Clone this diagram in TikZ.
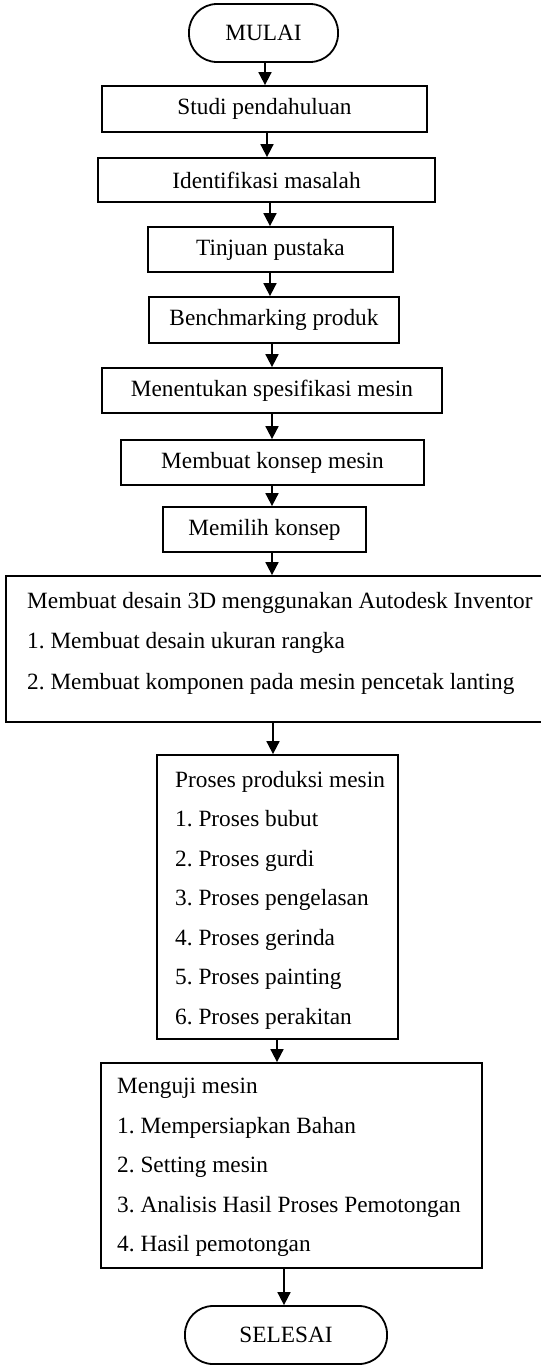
\documentclass[tikz,border=0pt]{standalone}
\usepackage{fontspec}
\setmainfont{Liberation Serif}
\usetikzlibrary{arrows.meta}
\frenchspacing
\begin{document}
\begin{tikzpicture}[x=1pt,y=-1pt,
  box/.style={draw,line width=1.8pt,inner sep=0pt,font=\fontsize{23.3}{28}\selectfont},
  term/.style={box,rounded corners=28pt},
  txt/.style={inner sep=0pt,anchor=base west,font=\fontsize{23.3}{28}\selectfont},
  arr/.style={line width=1.8pt,-{Triangle[length=13pt,width=13pt]}}]
\useasboundingbox (0,0) rectangle (541,1366);
\node[term,minimum width=149pt,minimum height=58pt] (mulai) at (263.5,33) {MULAI};
\node[box,minimum width=325pt,minimum height=46pt] (studi) at (264.5,109) {Studi pendahuluan};
\node[box,minimum width=337pt,minimum height=44pt] (ident) at (266.5,180) {Identifikasi masalah};
\node[box,minimum width=245pt,minimum height=45pt] (tinjau) at (270.5,249.5) {Tinjuan pustaka};
\node[box,minimum width=250pt,minimum height=46pt] (bench) at (274,320) {Benchmarking produk};
\node[box,minimum width=340pt,minimum height=45pt] (spek) at (272,390.5) {Menentukan spesifikasi mesin};
\node[box,minimum width=303pt,minimum height=45pt] (konsep) at (272.5,462.5) {Membuat konsep mesin};
\node[box,minimum width=203pt,minimum height=45pt] (pilih) at (264.5,529.5) {Memilih konsep};
\node[box,minimum width=540pt,minimum height=146pt] (desain) at (276,649) {};
\node[txt] (d0) at (27,608) {Membuat desain 3D menggunakan Autodesk Inventor};
\node[txt] (d1) at (27,648.5) {1. Membuat desain ukuran rangka};
\node[txt] (d2) at (27,689) {2. Membuat komponen pada mesin pencetak lanting};
\node[box,minimum width=241pt,minimum height=284pt] (prod) at (277.5,897) {};
\node[txt] (p0) at (175,787) {Proses produksi mesin};
\node[txt] (p1) at (175,826.5) {1. Proses bubut};
\node[txt] (p2) at (175,866) {2. Proses gurdi};
\node[txt] (p3) at (175,905.5) {3. Proses pengelasan};
\node[txt] (p4) at (175,945) {4. Proses gerinda};
\node[txt] (p5) at (175,984.5) {5. Proses painting};
\node[txt] (p6) at (175,1024) {6. Proses perakitan};
\node[box,minimum width=381pt,minimum height=205pt] (uji) at (291.5,1165.5) {};
\node[txt] (u0) at (117,1093) {Menguji mesin};
\node[txt] (u1) at (117,1133) {1. Mempersiapkan Bahan};
\node[txt] (u2) at (117,1172.5) {2. Setting mesin};
\node[txt] (u3) at (117,1212) {3. Analisis Hasil Proses Pemotongan};
\node[txt] (u4) at (117,1251.5) {4. Hasil pemotongan};
\node[term,minimum width=202pt,minimum height=58pt] (selesai) at (286,1335) {SELESAI};
\coordinate (xa) at (265,0);
\coordinate (xb) at (267,0);
\coordinate (xc) at (270,0);
\coordinate (xd) at (272,0);
\coordinate (xe) at (273,0);
\coordinate (xf) at (277,0);
\coordinate (xg) at (284,0);
\draw[arr] (mulai.south -| xa) -- (studi.north -| xa);
\draw[arr] (studi.south -| xb) -- (ident.north -| xb);
\draw[arr] (ident.south -| xc) -- (tinjau.north -| xc);
\draw[arr] (tinjau.south -| xc) -- (bench.north -| xc);
\draw[arr] (bench.south -| xd) -- (spek.north -| xd);
\draw[arr] (spek.south -| xd) -- (konsep.north -| xd);
\draw[arr] (konsep.south -| xd) -- (pilih.north -| xd);
\draw[arr] (pilih.south -| xd) -- (desain.north -| xd);
\draw[arr] (desain.south -| xe) -- (prod.north -| xe);
\draw[arr] (prod.south -| xf) -- (uji.north -| xf);
\draw[arr] (uji.south -| xg) -- (selesai.north -| xg);
\end{tikzpicture}
\end{document}
